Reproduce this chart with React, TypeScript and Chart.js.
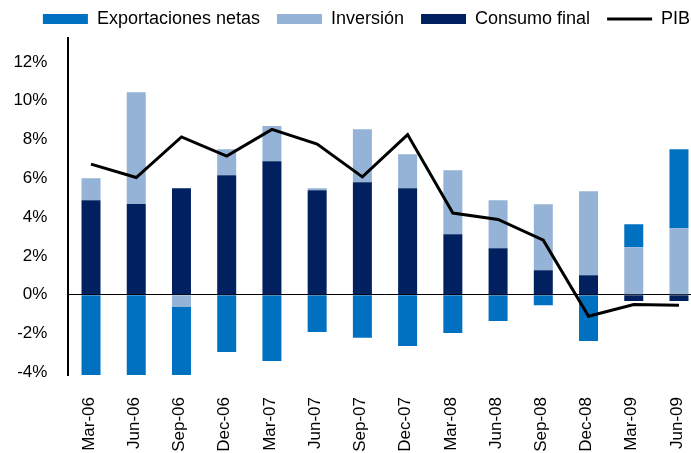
import React, { useEffect, useRef } from "react";
import { Chart, registerables } from "chart.js";

Chart.register(...registerables);

const categories = ["Mar-06", "Jun-06", "Sep-06", "Dec-06", "Mar-07", "Jun-07", "Sep-07", "Dec-07", "Mar-08", "Jun-08", "Sep-08", "Dec-08", "Mar-09", "Jun-09"];
const exportacionesNetas = [-4.5, -4.6, -3.6, -2.95, -3.42, -1.93, -2.22, -2.64, -1.98, -1.36, -0.55, -2.39, 1.19, 4.07];
const inversion = [1.13, 5.77, -0.63, 1.33, 1.81, 0.1, 2.73, 1.75, 3.29, 2.48, 3.4, 4.33, 2.44, 3.42];
const consumoFinal = [4.87, 4.67, 5.49, 6.16, 6.88, 5.38, 5.8, 5.49, 3.12, 2.39, 1.26, 1.0, -0.33, -0.33];
const pib = [6.73, 6.04, 8.13, 7.14, 8.52, 7.76, 6.07, 8.25, 4.21, 3.88, 2.81, -1.11, -0.51, -0.55];
const yTicks = [-4, -2, 0, 2, 4, 6, 8, 10, 12];

const FONT = "'Liberation Sans', Arial, sans-serif";

export default function App() {
  const ref = useRef<HTMLCanvasElement | null>(null);
  useEffect(() => {
    if (!ref.current) return;
    const chart = new Chart(ref.current, {
      type: "bar",
      data: {
        labels: categories,
        datasets: [
          { type: "bar", label: "Exportaciones netas", data: exportacionesNetas, backgroundColor: "#0070C0", order: 3, pointStyle: "rect", borderWidth: 0 },
          { type: "bar", label: "Inversión", data: inversion, backgroundColor: "#95B3D7", order: 2, pointStyle: "rect", borderWidth: 0 },
          { type: "bar", label: "Consumo final", data: consumoFinal, backgroundColor: "#002060", order: 1, pointStyle: "rect", borderWidth: 0 },
          { type: "line", label: "PIB", data: pib, borderColor: "#000000", backgroundColor: "#000000", borderWidth: 3, pointRadius: 0, tension: 0, order: 0, stack: "pib", pointStyle: "line" } as any,
        ],
      },
      options: {
        responsive: false,
        animation: false,
        layout: { padding: { left: 10, right: 0, top: -7, bottom: 0 } },
        datasets: { bar: { barPercentage: 0.42, categoryPercentage: 1 } },
        plugins: {
          tooltip: { enabled: false },
          legend: {
            position: "top",
            labels: {
              usePointStyle: true,
              pointStyleWidth: 45,
              boxHeight: 10,
              padding: 17,
              color: "#000",
              font: { family: FONT, size: 18 },
              sort: (a: any, b: any) => a.datasetIndex - b.datasetIndex,
            },
          },
        },
        scales: {
          x: {
            stacked: true,
            grid: { display: false, drawTicks: false },
            border: { display: false },
            ticks: { color: "#000", font: { family: FONT, size: 17 }, minRotation: 90, maxRotation: 90, padding: 22, autoSkip: false, labelOffset: -2 },
            afterFit: (s: any) => { s.height = 78; },
          },
          y: {
            stacked: true,
            min: -4.14,
            max: 13.23,
            afterBuildTicks: (s: any) => { s.ticks = yTicks.map((v) => ({ value: v })); },
            grid: {
              drawTicks: false,
              color: (c: any) => (c.tick && c.tick.value === 0 ? "#000" : "rgba(0,0,0,0)"),
              lineWidth: 1,
            },
            border: { display: true, color: "#000", width: 2 },
            ticks: { color: "#000", font: { family: FONT, size: 17 }, padding: 21, callback: (v: any) => v + "%" },
            afterFit: (s: any) => { s.width = 58.4; },
          },
          yRight: {
            position: "right",
            display: true,
            min: -4.14,
            max: 13.23,
            grid: { display: false, drawTicks: false },
            border: { display: false },
            ticks: { display: false },
            afterFit: (s: any) => { s.width = 21.4; },
          },
        },
      },
    });
    return () => chart.destroy();
  }, []);
  return (
    <div style={{ position: "fixed", left: 0, top: 0, width: 691, height: 453, overflow: "hidden", background: "#fff" }}>
      <canvas ref={ref} width={723} height={453} />
    </div>
  );
}
